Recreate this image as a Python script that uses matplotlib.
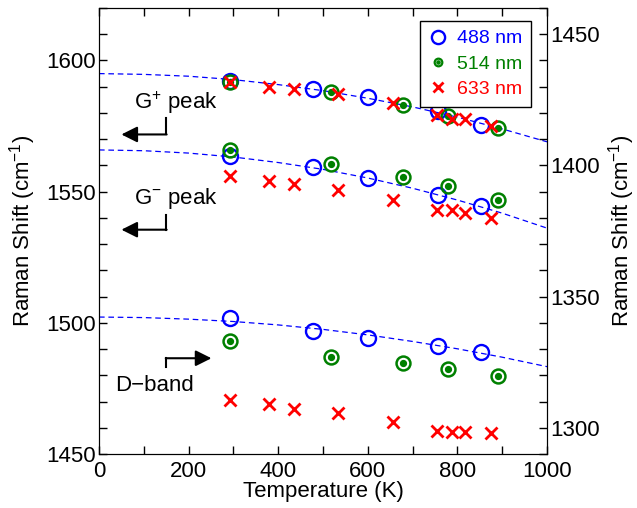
import matplotlib
matplotlib.use("Agg")
import matplotlib.pyplot as plt
from matplotlib.lines import Line2D
from matplotlib.legend_handler import HandlerTuple
from matplotlib.ticker import MultipleLocator

plt.rcParams['font.family'] = ['Liberation Sans', 'DejaVu Sans']
plt.rcParams['mathtext.fontset'] = 'custom'
plt.rcParams['mathtext.rm'] = 'Liberation Sans'
plt.rcParams['mathtext.default'] = 'regular'

# temperatures (K) for each laser line
T_488 = [293, 478, 601, 756, 853]
T_514 = [293, 518, 679, 780, 891]
T_633 = [293, 380, 436, 534, 656, 754, 789, 817, 876]

# G+ and G- peaks (left axis, cm-1)
gplus_488 = [1592.2, 1589.2, 1586.0, 1580.6, 1575.4]
gplus_514 = [1591.9, 1587.9, 1583.2, 1579.0, 1574.3]
gplus_633 = [1591.8, 1590.0, 1589.3, 1587.3, 1583.9, 1579.4, 1577.6, 1577.6, 1575.0]
gminus_488 = [1563.4, 1559.5, 1555.1, 1548.7, 1544.4]
gminus_514 = [1565.8, 1560.6, 1555.7, 1552.1, 1546.8]
gminus_633 = [1555.8, 1554.2, 1553.1, 1550.8, 1546.7, 1543.0, 1543.0, 1541.7, 1540.0]

# D-band (right axis, cm-1)
d_488 = [1341.8, 1336.8, 1334.2, 1331.2, 1329.0]
d_514 = [1333.2, 1326.8, 1324.8, 1322.3, 1319.9]
d_633 = [1310.6, 1309.1, 1307.1, 1305.8, 1302.3, 1298.9, 1298.5, 1298.5, 1298.1]

# dashed fit curves
T_fit = [0, 100, 200, 300, 400, 500, 600, 700, 800, 900, 1000]
fit_gplus = [1595.0, 1594.7, 1594.0, 1592.7, 1590.8, 1588.5, 1585.6, 1582.3, 1578.4, 1573.9, 1569.0]
fit_gminus = [1565.9, 1565.6, 1564.7, 1563.2, 1561.1, 1558.5, 1555.2, 1551.3, 1546.8, 1541.8, 1536.1]
fit_d = [1342.2, 1342.0, 1341.4, 1340.5, 1339.2, 1337.5, 1335.4, 1332.9, 1330.1, 1326.9, 1323.3]

blue = '#0000ff'
green = '#008000'
red = '#ff0000'

fig = plt.figure(figsize=(6.37, 5.08), dpi=100)
ax = fig.add_axes([99/637, 1 - 454/508, 448/637, 446/508])
ax2 = ax.twinx()


def draw(a, T_b, y_b, T_g, y_g, T_r, y_r):
    a.plot(T_b, y_b, 'o', ms=10.8, mfc='none', mec=blue, mew=1.7, ls='none', zorder=3)
    a.plot(T_g, y_g, 'o', ms=10, mfc='none', mec=green, mew=1.8, ls='none', zorder=4)
    a.plot(T_g, y_g, 'o', ms=4.2, mfc=green, mec=green, ls='none', zorder=4)
    a.plot(T_r, y_r, 'x', ms=8, mec=red, mew=2, ls='none', zorder=5)


dash = dict(color=blue, lw=0.9, dashes=(4.5, 3), zorder=2)
ax.plot(T_fit, fit_gplus, **dash)
ax.plot(T_fit, fit_gminus, **dash)
ax2.plot(T_fit, fit_d, **dash)

draw(ax, T_488, gplus_488, T_514, gplus_514, T_633, gplus_633)
draw(ax, T_488, gminus_488, T_514, gminus_514, T_633, gminus_633)
draw(ax2, T_488, d_488, T_514, d_514, T_633, d_633)

ax.set_xlim(0, 1000)
ax.set_ylim(1450, 1620)
ax2.set_ylim(1290, 1460)

ax.xaxis.set_major_locator(MultipleLocator(200))
ax.xaxis.set_minor_locator(MultipleLocator(100))
ax.yaxis.set_major_locator(MultipleLocator(50))
ax.yaxis.set_minor_locator(MultipleLocator(10))
ax2.yaxis.set_major_locator(MultipleLocator(50))
ax2.yaxis.set_minor_locator(MultipleLocator(10))

ax.tick_params(axis='x', which='both', direction='in', top=True, labelsize=16, pad=5)
ax.tick_params(axis='y', which='both', direction='in', right=False, labelsize=16, pad=2)
ax.tick_params(which='major', length=6, width=1)
ax.tick_params(which='minor', length=5.5, width=1)
ax2.tick_params(axis='y', which='both', direction='in', labelsize=16, pad=2)
ax2.tick_params(which='major', length=6, width=1)
ax2.tick_params(which='minor', length=5.5, width=1)

ax.set_xlabel('Temperature (K)', fontsize=16, labelpad=-1)
ax.set_ylabel('Raman Shift (cm$^{-1}$)', fontsize=16, labelpad=6)
ax2.set_ylabel('Raman Shift (cm$^{-1}$)', fontsize=16, labelpad=5)

# annotations with bent arrows
arrow = dict(arrowstyle='-|>', color='k', lw=1.5, mutation_scale=24, shrinkA=0, shrinkB=0)

ax.text(79, 1584.0, 'G$^{+}$ peak', fontsize=16, va='center')
ax.plot([150, 150], [1578.1, 1571.8], color='k', lw=1.5)
ax.annotate('', xy=(50, 1571.8), xytext=(151, 1571.8), arrowprops=arrow)

ax.text(79, 1547.3, 'G$^{-}$ peak', fontsize=16, va='center')
ax.plot([150, 150], [1541.2, 1535.5], color='k', lw=1.5)
ax.annotate('', xy=(50, 1535.5), xytext=(151, 1535.5), arrowprops=arrow)

ax.text(37, 1476.3, 'D\u2212band', fontsize=16, va='center')
ax.plot([150, 150], [1483.3, 1486.5], color='k', lw=1.5)
ax.annotate('', xy=(251, 1486.5), xytext=(149, 1486.5), arrowprops=arrow)

# legend
h_b = Line2D([], [], marker='o', ms=9.5, mfc='none', mec=blue, mew=1.7, ls='none')
h_g1 = Line2D([], [], marker='o', ms=5.5, mfc='none', mec=green, mew=1.6, ls='none')
h_g2 = Line2D([], [], marker='o', ms=2.3, mfc=green, mec=green, ls='none')
h_r = Line2D([], [], marker='x', ms=7.5, mec=red, mew=2, ls='none')
leg = ax2.legend([h_b, (h_g1, h_g2), h_r], ['488 nm', '514 nm', '633 nm'],
                 handler_map={tuple: HandlerTuple(ndivide=1, pad=0)},
                 loc='upper right', bbox_to_anchor=(531/637, 1 - 21/508),
                 bbox_transform=fig.transFigure, fontsize=14, frameon=True,
                 fancybox=False, edgecolor='k', framealpha=1, handlelength=0.9,
                 handletextpad=0.55, borderpad=0.45, labelspacing=0.4,
                 borderaxespad=0)
leg._legend_box.align = 'left'
leg.get_frame().set_linewidth(1)
for t, c in zip(leg.get_texts(), [blue, green, red]):
    t.set_color(c)

fig.savefig('out.png', dpi=100)
